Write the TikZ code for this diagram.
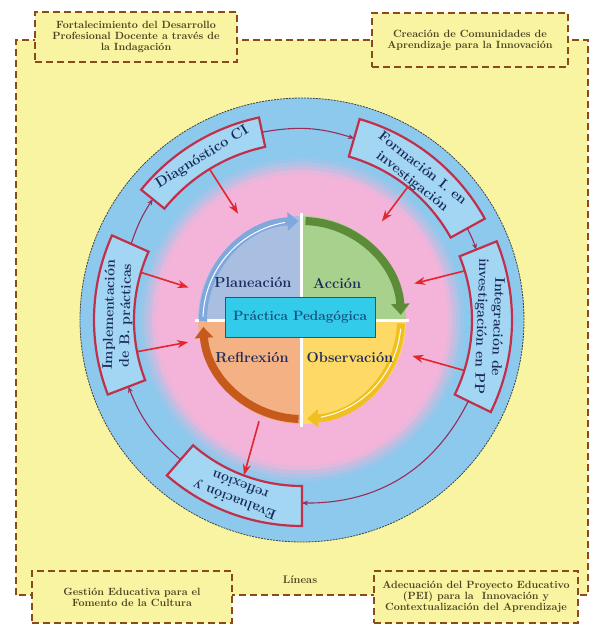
\documentclass[tikz,border=0pt]{standalone}
\usepackage{tikz}
\usetikzlibrary{arrows.meta, positioning, calc}

\definecolor{paleyellow}{HTML}{F9F4A2}
\definecolor{framebrown}{HTML}{8A4B1C}
\definecolor{ringblue}{HTML}{8CC9EC}
\definecolor{ringpink}{HTML}{F4B4DA}
\definecolor{boxred}{HTML}{C22F4B}
\definecolor{boxblue}{HTML}{A3D6F2}
\definecolor{navytext}{HTML}{1C2B5C}
\definecolor{olivetext}{HTML}{4B4420}
\definecolor{linkpurple}{HTML}{9A2C5C}
\definecolor{arrowred}{HTML}{E3262E}
\definecolor{planfill}{HTML}{A8BFE2}
\definecolor{planarc}{HTML}{7FA8DC}
\definecolor{accifill}{HTML}{A9D18E}
\definecolor{acciarc}{HTML}{5C8C38}
\definecolor{obsefill}{HTML}{FFD966}
\definecolor{obsearc}{HTML}{F0C020}
\definecolor{reflfill}{HTML}{F4B183}
\definecolor{reflarc}{HTML}{C55A1C}
\definecolor{praccyan}{HTML}{33CBEA}
\definecolor{practext}{HTML}{15507E}

% curved box on the ring: start angle, end angle, inner radius, outer radius
\newcommand{\ringbox}[4]{%
  \draw[boxline] (#1:#3) arc[start angle=#1, end angle=#2, radius=#3]
    -- (#2:#4) arc[start angle=#2, end angle=#1, radius=#4] -- cycle;}

\begin{document}
\begin{tikzpicture}[x=1pt, y=1pt,
    framedash/.style={draw=framebrown, line width=2pt, dash pattern=on 7pt off 4pt},
    linebox/.style={rectangle, framedash, fill=paleyellow, text=olivetext,
                    font=\bfseries\fontsize{10.5}{11}\selectfont, align=center, inner sep=2pt},
    boxline/.style={draw=boxred, line width=2.2pt, fill=boxblue},
    ringlabel/.style={rectangle, inner sep=0pt, text=navytext, align=center,
                      font=\bfseries\fontsize{14}{16.5}\selectfont},
    quadlabel/.style={font=\bfseries\fontsize{14.5}{16}\selectfont, text=navytext},
    cyclearc/.style={line width=8pt, -{Triangle[length=11pt, width=18pt]}},
    redarrow/.style={-{Stealth[length=11pt, width=8pt]}, line width=1.6pt, draw=arrowred},
    linkarrow/.style={-{Stealth[length=6pt, width=5pt]}, line width=1.1pt, draw=linkpurple},
]
\useasboundingbox (-302,-310) rectangle (295,320);
\fill[white] (-302,-310) rectangle (295,320);

% Lineas frame
\draw[framedash, fill=paleyellow] (-286,-275) rectangle (286,280);

\node[linebox, minimum width=202pt, minimum height=50pt] (fortal) at (-166,283)
    {Fortalecimiento del Desarrollo\\Profesional Docente a través de\\la Indagación};
\node[linebox, minimum width=196pt, minimum height=54pt] (creac) at (168,280)
    {Creación de Comunidades de\\Aprendizaje para la Innovación};
\node[linebox, minimum width=200pt, minimum height=52pt] (gesti) at (-170,-277)
    {Gestión Educativa para el\\Fomento de la Cultura};
\node[linebox, minimum width=203pt, minimum height=52pt] (adecu) at (174,-277)
    {Adecuación del Proyecto Educativo\\(PEI) para la\ \ Innovación y\\Contextualización del Aprendizaje};
\node[font=\bfseries\fontsize{11}{12}\selectfont, text=olivetext] (lineas) at (-2,-260) {Líneas};

% Rings
\fill[ringblue] (0,0) circle[radius=222];
\foreach \rr/\mix in {162/15, 158/35, 154/60, 150/85}
  \fill[ringpink!\mix!ringblue] (0,0) circle[radius=\rr];
\fill[ringpink] (0,0) circle[radius=146];
\draw[black!75, line width=0.8pt, dash pattern=on 2pt off 1pt] (0,0) circle[radius=222];

% Quadrants
\fill[planfill] (0,0) -- (180:104) arc[start angle=180, end angle=90, radius=104] -- cycle;
\fill[accifill] (0,0) -- (90:104) arc[start angle=90, end angle=0, radius=104] -- cycle;
\fill[obsefill] (0,0) -- (0:104) arc[start angle=0, end angle=-90, radius=104] -- cycle;
\fill[reflfill] (0,0) -- (-90:104) arc[start angle=-90, end angle=-180, radius=104] -- cycle;
\draw[white, line width=3pt] (-107,0) -- (107,0) (0,-107) -- (0,107);

\draw[cyclearc, draw=planarc] (181:99) arc[start angle=181, end angle=92, radius=99];
\draw[white, line width=1pt] (178:99) arc[start angle=178, end angle=100, radius=99];
\draw[cyclearc, draw=acciarc] (88:99) arc[start angle=88, end angle=3, radius=99];
\draw[cyclearc, draw=obsearc] (-2:99) arc[start angle=-2, end angle=-87, radius=99];
\draw[white, line width=1pt] (-5:99) arc[start angle=-5, end angle=-79, radius=99];
\draw[cyclearc, draw=reflarc] (-92:99) arc[start angle=-92, end angle=-176, radius=99];

\node[quadlabel] (plan) at (-49,38) {Planeación};
\node[quadlabel] (acci) at (35,37) {Acción};
\node[quadlabel] (refl) at (-50,-37) {Reflrexión};
\node[quadlabel] (obse) at (48,-37) {Observación};

\node[draw=black!70, fill=praccyan, line width=0.8pt, minimum width=150pt, minimum height=40pt,
      text=practext, font=\bfseries\fontsize{13.5}{14}\selectfont] (prac) at (-2,2.5) {Práctica Pedagógica};

% Boxes on the ring
\ringbox{102}{141}{177}{207}
\ringbox{29}{74}{170}{209}
\ringbox{-26}{22}{170}{210}
\ringbox{229}{270}{166}{206}
\ringbox{156}{201}{168}{208}

\node[ringlabel, font=\bfseries\fontsize{14.5}{16}\selectfont, rotate=31.5,
      minimum width=131pt, minimum height=28pt] (diag) at (121.5:191) {Diagnóstico CI};
\node[ringlabel, rotate=-38.5, minimum width=148pt, minimum height=30pt] (form) at (51.5:185) {Formación I. en\\investigación};
\node[ringlabel, rotate=-92, minimum width=159pt, minimum height=34pt] (integ) at (-2:187) {Integración de\\investigación en PP};
\node[ringlabel, rotate=159.5, minimum width=133pt, minimum height=38pt] (eval) at (249.5:185) {Evaluación y\\reflexión};
\node[ringlabel, rotate=88.5, minimum width=147pt, minimum height=32pt] (impl) at (178.5:184) {Implementación\\de B. prácticas};

% Cycle along the ring
\coordinate (diagR) at (102:192);
\coordinate (diagL) at (141:192);
\coordinate (formL) at (74:189);
\coordinate (formR) at (29:189);
\coordinate (integT) at (22:188);
\coordinate (integB) at (-26:185);
\coordinate (evalR) at (270:183);
\coordinate (evalL) at (229:185);
\coordinate (implB) at (201:186);
\coordinate (implT) at (156:187);

\draw[linkarrow] (diagR) to[bend left=14] (formL);
\draw[linkarrow] (formR) to[bend left=4] (integT);
\draw[linkarrow] (integB) to[bend left=32] (evalR);
\draw[linkarrow] (evalL) to[bend left=14] (implB);
\draw[linkarrow] (implT) to[bend left=7.5] (diagL);

% Arrows to the practice
\coordinate (planTop) at (121:124);
\coordinate (acciTop) at (51:127);
\coordinate (acciSide) at (18:118);
\coordinate (obseSide) at (-18:116);
\coordinate (reflBot) at (247:110);
\coordinate (planSide) at (164:118);
\coordinate (reflSide) at (191:116);

\draw[redarrow] (diag.south) -- (planTop);
\draw[redarrow] (form.south) -- (acciTop);
\draw[redarrow, shorten <=9pt] ($(integ.south)!0.72!(integ.south west)$) -- (acciSide);
\draw[redarrow, shorten <=6pt] ($(integ.south)!0.58!(integ.south east)$) -- (obseSide);
\draw[redarrow] (reflBot) -- (eval.south);
\draw[redarrow, shorten <=6pt] ($(impl.south)!0.61!(impl.south east)$) -- (planSide);
\draw[redarrow, shorten <=4pt] ($(impl.south)!0.5!(impl.south west)$) -- (reflSide);

\end{tikzpicture}
\end{document}
